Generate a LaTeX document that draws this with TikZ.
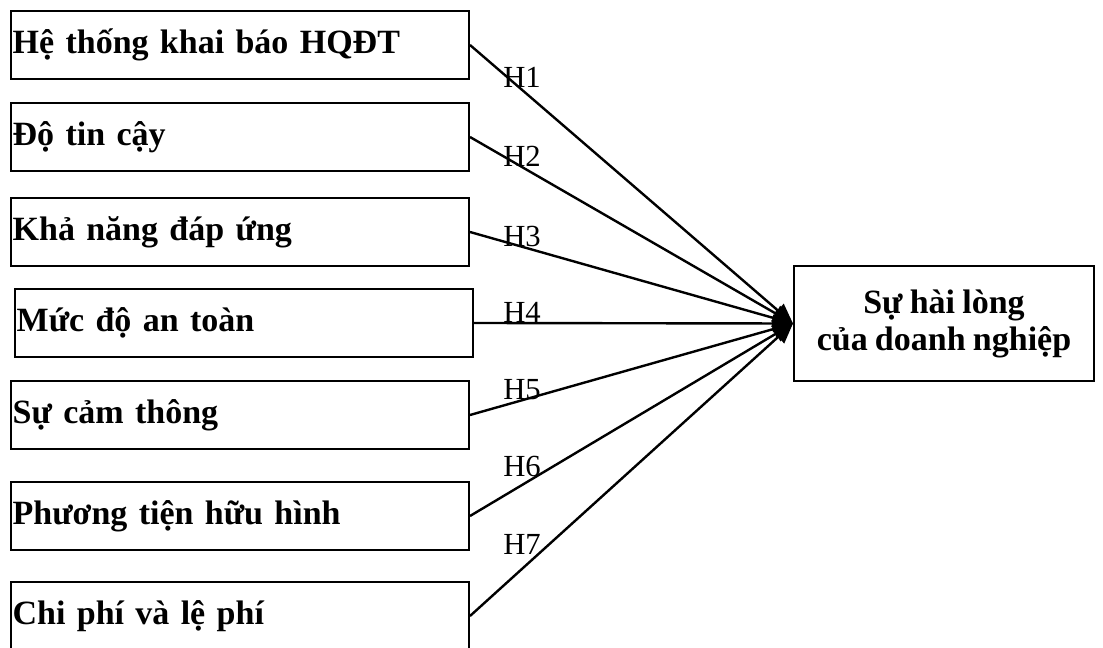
\documentclass[tikz,border=0pt]{standalone}
\usepackage{fontspec}
\setmainfont[WordSpace=0.85]{Liberation Serif}
\usetikzlibrary{arrows.meta}
\begin{document}
\begin{tikzpicture}[x=0.75pt,y=-0.75pt,
  factor/.style={draw, line width=1.5pt, rectangle, anchor=north west,
    minimum width=343.5pt, minimum height=51pt, text width=341pt,
    inner xsep=1.2pt, inner ysep=0pt, align=left,
    font=\fontsize{25.5pt}{30pt}\selectfont\bfseries},
  outcome/.style={draw, line width=1.5pt, rectangle, anchor=north west,
    minimum width=225pt, minimum height=86.25pt, align=center,
    font=\fontsize{25.5pt}{27.75pt}\selectfont\bfseries},
  conn/.style={line width=1.8pt, -{Triangle[length=15pt,width=13pt]}},
  hyp/.style={anchor=west, inner sep=0pt, font=\fontsize{23pt}{25pt}\selectfont}]
\clip (0,0) rectangle (1103,648);

% factor boxes
\node[factor] (f1) at (10,10)  {Hệ thống khai báo HQĐT};
\node[factor] (f2) at (10,102) {Độ tin cậy};
\node[factor] (f3) at (10,197) {Khả năng đáp ứng};
\node[factor] (f4) at (14,288) {Mức độ an toàn};
\node[factor] (f5) at (10,380) {Sự cảm thông};
\node[factor] (f6) at (10,481) {Phương tiện hữu hình};
\node[factor] (f7) at (10,581) {Chi phí và lệ phí};

% dependent variable
\node[outcome] (out) at (793,265) {Sự hài lòng\\của doanh nghiệp};

% hypothesised paths
\foreach \i in {1,...,7} {
  \draw[conn] (f\i.east) -- (out.west);
}

% path labels
\node[hyp] (h1) at (503,77)  {H1};
\node[hyp] (h2) at (503,156) {H2};
\node[hyp] (h3) at (503,236) {H3};
\node[hyp] (h4) at (503,312) {H4};
\node[hyp] (h5) at (503,390) {H5};
\node[hyp] (h6) at (503,466) {H6};
\node[hyp] (h7) at (503,544) {H7};
\end{tikzpicture}
\end{document}
